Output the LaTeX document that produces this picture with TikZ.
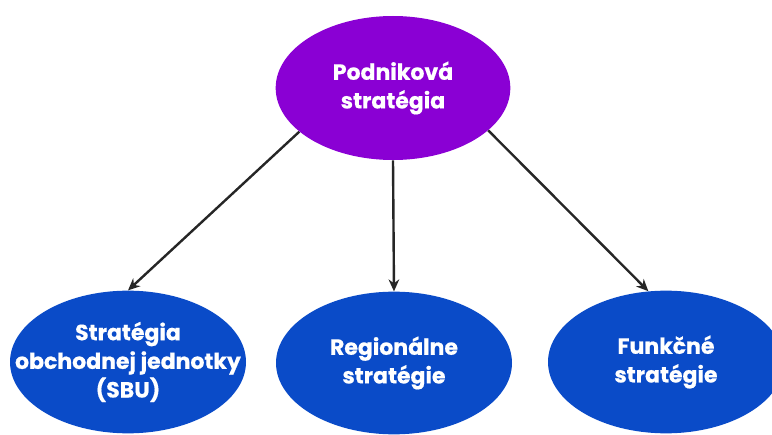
\documentclass[tikz,border=0pt]{standalone}
\usepackage{fontspec}
\setmainfont{Poppins}[BoldFeatures={FakeBold=0.5}]
\usepackage{tikz}
\usetikzlibrary{arrows.meta,positioning,shapes.geometric}
\definecolor{stratpurple}{HTML}{8A00D4}
\definecolor{stratblue}{HTML}{0A4BC8}

\begin{document}
\begin{tikzpicture}[x=0.75pt,y=-0.75pt,
  corp/.style={ellipse, fill=stratpurple, text=white, align=center,
    minimum width=176pt, minimum height=108pt, inner xsep=-30pt, inner ysep=0pt,
    font=\bfseries\fontsize{16.5}{21.5}\selectfont},
  unit/.style={ellipse, fill=stratblue, text=white, align=center,
    minimum width=177pt, minimum height=107pt, inner xsep=-30pt, inner ysep=0pt,
    font=\bfseries\fontsize{16.5}{21.5}\selectfont},
  link/.style={-{Stealth[length=9pt,width=8pt]}, line width=1.8pt, draw=black!85}
]
\useasboundingbox (0,0) rectangle (772,435);
\node[corp] (podnik) at (393,88) {Podniková\\stratégia};
\node[unit] (sbu) at (128,362) {Stratégia\\obchodnej jednotky\\(SBU)};
\node[unit] (region) at (394,363) {Regionálne\\stratégie};
\node[unit] (funk) at (666,362) {Funkčné\\stratégie};

\draw[link] (podnik.205) -- (sbu.north);
\draw[link] (podnik.south) -- (region.north);
\draw[link] (podnik.336) -- (funk.104);
\end{tikzpicture}
\end{document}
